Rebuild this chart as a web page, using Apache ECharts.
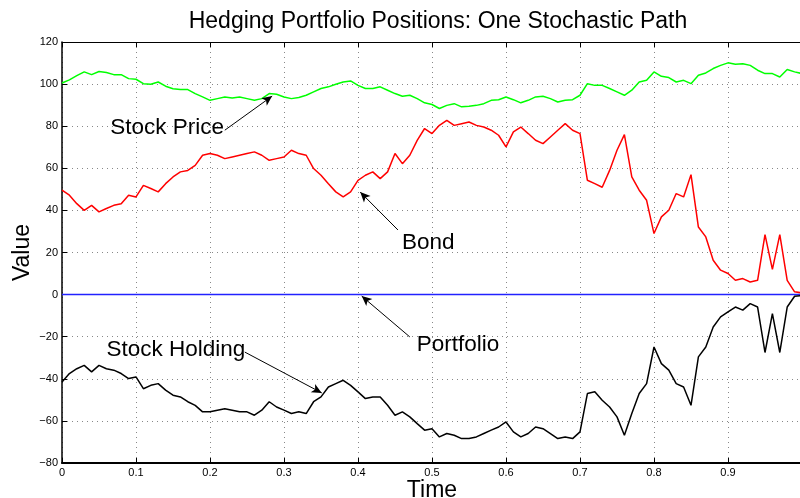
<!DOCTYPE html>
<html>
<head>
<meta charset="utf-8">
<script src="https://cdn.jsdelivr.net/npm/echarts@6/dist/echarts.min.js"></script>
<style>
html,body{margin:0;padding:0;background:#fff;overflow:hidden;}
#c{width:800px;height:498px;}
</style>
</head>
<body>
<div id="c"></div>
<script>
// time grid step 0.01 from 0 to 1
var timeStep = 0.01;
var stockPrice = [100.5,102,104,105.8,104.5,106,105.5,104.5,104.5,102.6,
102.3,100.2,99.9,101,99,97.8,97.4,97.4,95.5,93.9,
92.3,93.1,93.9,93.4,93.9,93.1,92.3,93.1,95.5,95.2,
93.9,93.1,93.6,94.7,96.3,97.9,98.7,99.9,101,101.5,
99.4,97.9,97.9,98.7,97.1,95.5,94.2,94.7,93.1,91.1,
90.3,88.4,89.9,90.7,89.2,89.5,89.9,90.7,92.3,92.6,
93.9,92.6,91.1,92.3,93.9,94.2,93.1,91.5,92.3,92.6,
94.7,100.2,99.4,99.4,97.9,96.3,94.7,97.1,101,101.8,
105.8,103.7,103.1,101,101.8,100.2,104.2,105.3,107.4,108.9,
110.1,109.4,109.7,108.9,106.6,105,105,103.4,106.9,105.8,105];
var bond = [49.6,47.2,43.2,40,42.4,39.3,40.9,42.4,43.2,47.2,
46.4,51.9,50.4,48.8,52.7,55.9,58.3,59,61.4,66.2,
67,66.2,64.6,65.4,66.2,67,67.8,66.2,63.8,64.6,
65.4,68.6,67,66.2,59.9,56.7,52.7,48.8,46.4,48.8,
54.3,56.7,58.3,55.1,58.3,67,62.2,66.2,73.3,78.9,
76.5,80.4,82.8,80.4,81.2,82,80.4,79.6,78.1,75.7,
70.2,77.3,79.6,76.5,73.3,71.7,74.9,78.1,81.2,78.1,
76.5,54.3,52.7,51,59,68.6,76,55.9,49.6,44.8,
29,36.9,40.1,48,46.4,57,32.1,27.4,16.3,11.6,
10,6.8,7.6,6,6.8,28.5,12,28.5,6.8,1.3,0.8];
var stockHolding = [-41.5,-37.5,-35.2,-33.6,-36.7,-33.6,-35.2,-35.9,-37.5,-39.9,
-39.1,-44.7,-43.1,-42.3,-45.4,-47.8,-48.6,-50.9,-52.6,-55.7,
-55.7,-54.9,-54.2,-54.9,-55.7,-55.7,-57.3,-54.9,-50.9,-53.4,
-54.9,-56.5,-55.7,-56.5,-50.9,-48.6,-43.9,-42.3,-40.7,-43.1,
-46.2,-49.4,-48.6,-48.6,-52.6,-57.3,-55.7,-58.1,-61.3,-64.4,
-63.7,-67.6,-66,-66.8,-68.4,-68.4,-67.6,-66,-64.4,-62.9,
-60.5,-65.2,-67.6,-66,-62.9,-63.7,-66,-68.4,-67.6,-68.4,
-65.2,-47,-46.2,-50.2,-53.4,-58.1,-66.8,-56.5,-47,-42.3,
-24.9,-32.8,-35.9,-42.3,-43.9,-52.6,-29.6,-24.9,-15.4,-10.6,
-8.2,-5.9,-7.4,-4.3,-5.9,-27.5,-9,-27.5,-5.9,-0.8,-0.5];
var portfolio = [0,0,0,0,0,0,0,0,0,0,
0,0,0,0,0,0,0,0,0,0,
0,0,0,0,0,0,0,0,0,0,
0,0,0,0,0,0,0,0,0,0,
0,0,0,0,0,0,0,0,0,0,
0,0,0,0,0,0,0,0,0,0,
0,0,0,0,0,0,0,0,0,0,
0,0,0,0,0,0,0,0,0,0,
0,0,0,0,0,0,0,0,0,0,
0,0,0,0,0,0,0,0,0,0,0];
var xTicks = ['0','0.1','0.2','0.3','0.4','0.5','0.6','0.7','0.8','0.9',''];
var yTicks = [-80,-60,-40,-20,0,20,40,60,80,100,120];

function pairs(arr){ return arr.map(function(v,i){ return [+(i*timeStep).toFixed(2), v]; }); }

var FONT = '"Liberation Sans", Arial, Helvetica, sans-serif';
var chart = echarts.init(document.getElementById('c'), null, {renderer:'canvas'});
function annText(t, x, y){
  return {coord:[x,y], symbol:'circle', symbolSize:0, value:t,
    label:{show:true, formatter:t, position:'inside', fontFamily:FONT, fontSize:22.5, color:'#000'}};
}
function arrow(x1,y1,x2,y2){
  return [{coord:[x1,y1], symbol:'none'},{coord:[x2,y2], symbol:'arrow', symbolSize:[7,10]}];
}
chart.setOption({
  animation:false,
  backgroundColor:'#fff',
  title:{text:'Hedging Portfolio Positions: One Stochastic Path', left:433, top:5, textAlign:'center',
    textStyle:{fontFamily:FONT, fontSize:23, fontWeight:'normal', color:'#000'}},
  grid:{left:62, right:-2, top:42, bottom:35, containLabel:false, outerBoundsMode:'none'},
  xAxis:[{
    type:'value', min:0, max:1, interval:0.1, position:'bottom',
    name:'Time', nameLocation:'middle', nameGap:16, nameMoveOverlap:false,
    nameTextStyle:{fontFamily:FONT, fontSize:23, color:'#000'},
    axisLine:{show:true, onZero:false, lineStyle:{color:'#000', width:2}},
    axisTick:{show:true, inside:true, length:5, lineStyle:{color:'#000'}},
    axisLabel:{show:true, fontFamily:FONT, fontSize:11, color:'#000', margin:4,
      formatter:function(v){ var i = Math.round(v*10); return xTicks[i] !== undefined ? xTicks[i] : ''; }},
    splitLine:{show:true, lineStyle:{color:'#888', type:[1,4], width:1}}
  },{
    type:'value', min:0, max:1, interval:0.1, position:'top',
    axisLine:{show:true, onZero:false, lineStyle:{color:'#000', width:1}},
    axisTick:{show:true, inside:true, length:5, lineStyle:{color:'#000'}},
    axisLabel:{show:false}, splitLine:{show:false}
  }],
  yAxis:{
    type:'value', min:-80, max:120, interval:20,
    name:'Value', nameLocation:'middle', nameGap:28, nameRotate:90, nameMoveOverlap:false,
    nameTextStyle:{fontFamily:FONT, fontSize:23, color:'#000'},
    axisLine:{show:true, onZero:false, lineStyle:{color:'#000', width:1.5}},
    axisTick:{show:true, inside:true, length:5, lineStyle:{color:'#000'}},
    axisLabel:{fontFamily:FONT, fontSize:11, color:'#000', margin:4,
      formatter:function(v){ return String(v).replace('-', '\u2212'); }},
    splitLine:{show:true, lineStyle:{color:'#888', type:[1,4], width:1}}
  },
  series:[
    {name:'Stock Price', type:'line', data:pairs(stockPrice), showSymbol:false, symbol:'none',
      lineStyle:{color:'#00ff00', width:1.5}, itemStyle:{color:'#00ff00'}},
    {name:'Bond', type:'line', data:pairs(bond), showSymbol:false, symbol:'none',
      lineStyle:{color:'#ff0000', width:1.5}, itemStyle:{color:'#ff0000'}},
    {name:'Portfolio', type:'line', data:pairs(portfolio), showSymbol:false, symbol:'none',
      lineStyle:{color:'#2222ff', width:1.5}, itemStyle:{color:'#2222ff'}},
    {name:'Stock Holding', type:'line', data:pairs(stockHolding), showSymbol:false, symbol:'none',
      lineStyle:{color:'#000000', width:1.5}, itemStyle:{color:'#000'},
      markLine:{silent:true, animation:false, symbol:['none','arrow'],
        lineStyle:{color:'#000', width:1, type:'solid'}, label:{show:false},
        data:[arrow(0.220,78.1,0.284,94.3), arrow(0.454,30.7,0.403,48.7),
              arrow(0.470,-20.1,0.405,-0.7), arrow(0.247,-27.3,0.351,-46.7)]},
      markPoint:{silent:true, animation:false,
        data:[annText('Stock Price',0.142,79.1), annText('Bond',0.495,24.5),
              annText('Portfolio',0.535,-23.9), annText('Stock Holding',0.154,-26.3)]}
    }
  ]
});
</script>
</body>
</html>
